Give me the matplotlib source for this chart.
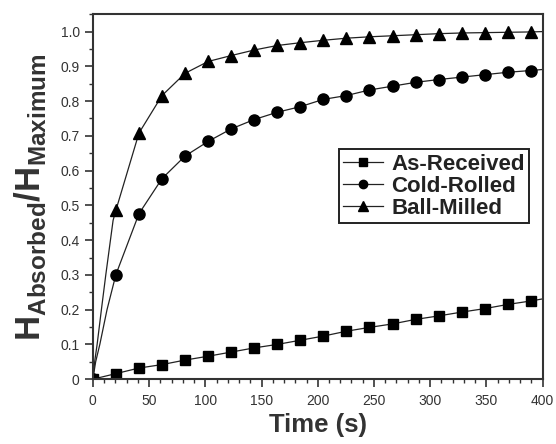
import matplotlib.pyplot as plt
from matplotlib.ticker import MultipleLocator, FuncFormatter

plt.rcParams['font.family'] = ['Liberation Sans', 'DejaVu Sans']
plt.rcParams['mathtext.fontset'] = 'custom'
plt.rcParams['mathtext.rm'] = 'Liberation Sans:bold'
plt.rcParams['mathtext.bf'] = 'Liberation Sans:bold'

# measured points (s)
t_meas = [0, 20.5, 41, 61.5, 82, 102.5, 123, 143.5, 164, 184.5, 205, 225.5,
          246, 266.5, 287, 307.5, 328, 348.5, 369, 389.5]

as_received = [0, 0.016, 0.032, 0.042, 0.055, 0.066, 0.078, 0.090, 0.100, 0.112,
               0.124, 0.138, 0.149, 0.159, 0.172, 0.182, 0.193, 0.203, 0.215, 0.225]
cold_rolled = [0, 0.301, 0.476, 0.577, 0.642, 0.684, 0.720, 0.747, 0.768, 0.784,
               0.805, 0.816, 0.832, 0.843, 0.854, 0.862, 0.869, 0.876, 0.883, 0.888]
ball_milled = [0, 0.486, 0.708, 0.816, 0.880, 0.914, 0.931, 0.947, 0.960, 0.968,
               0.975, 0.981, 0.985, 0.988, 0.991, 0.994, 0.996, 0.997, 0.998, 0.999]

# extra points of the fitted curves (line only)
t_start_cr = [2.5, 6.2, 12.6]
y_start_cr = [0.05, 0.10, 0.20]
t_start_bm = [1.8, 3.8, 7.6, 11.5, 18]
y_start_bm = [0.055, 0.10, 0.20, 0.30, 0.457]
t_end = 400
y_end = [0.231, 0.891, 1.0]

labels = ['As-Received', 'Cold-Rolled', 'Ball-Milled']
markers = ['s', 'o', '^']
sizes = [7.5, 8, 9]

fig = plt.figure(figsize=(5.56, 4.44), dpi=100)
ax = fig.add_axes([0.167, 0.146, 0.809, 0.822])

series = [
    ([], [], as_received),
    (t_start_cr, y_start_cr, cold_rolled),
    (t_start_bm, y_start_bm, ball_milled),
]
for i, (ts, ys, vals) in enumerate(series):
    t_line = [0] + ts + t_meas[1:] + [t_end]
    y_line = [0] + ys + vals[1:] + [y_end[i]]
    mark_idx = [0] + list(range(len(ts) + 1, len(t_line) - 1))
    ax.plot(t_line, y_line, color='#222222', lw=0.9, marker=markers[i],
            markersize=sizes[i], markerfacecolor='black', markeredgecolor='black',
            markevery=mark_idx, label=labels[i], clip_on=True)

ax.set_xlim(0, 400)
ax.set_ylim(0, 1.05)
ax.xaxis.set_major_locator(MultipleLocator(50))
ax.xaxis.set_minor_locator(MultipleLocator(10))
ax.yaxis.set_major_locator(MultipleLocator(0.1))
ax.yaxis.set_minor_locator(MultipleLocator(0.05))
ax.yaxis.set_major_formatter(FuncFormatter(lambda v, p: '0' if abs(v) < 1e-9 else f'{v:.1f}'))

ax.tick_params(which='major', direction='out', length=6, width=1.2, colors='#333333',
               labelsize=10, labelcolor='#333333')
ax.tick_params(which='minor', direction='out', length=3, width=1.0, colors='#333333')
ax.tick_params(axis='x', pad=5)
for s in ax.spines.values():
    s.set_linewidth(1.5)
    s.set_color('#333333')

ax.set_xlabel('Time (s)', fontsize=18.5, fontweight='bold', color='#333333', labelpad=3)
ax.set_ylabel(r'$\mathrm{H}_{\mathrm{Absorbed}}/\mathrm{H}_{\mathrm{Maximum}}$',
              fontsize=25, color='#333333', labelpad=9)

leg = ax.legend(loc='upper right', bbox_to_anchor=(0.97, 0.63), fancybox=False,
                edgecolor='#222222', framealpha=1, handlelength=1.8, handletextpad=0.35,
                borderpad=0.2, labelspacing=0.05, borderaxespad=0, markerscale=0.75,
                prop={'weight': 'bold', 'size': 16})
leg.get_frame().set_linewidth(1.4)
for txt in leg.get_texts():
    txt.set_color('#222222')

fig.savefig('out.png', dpi=100)
